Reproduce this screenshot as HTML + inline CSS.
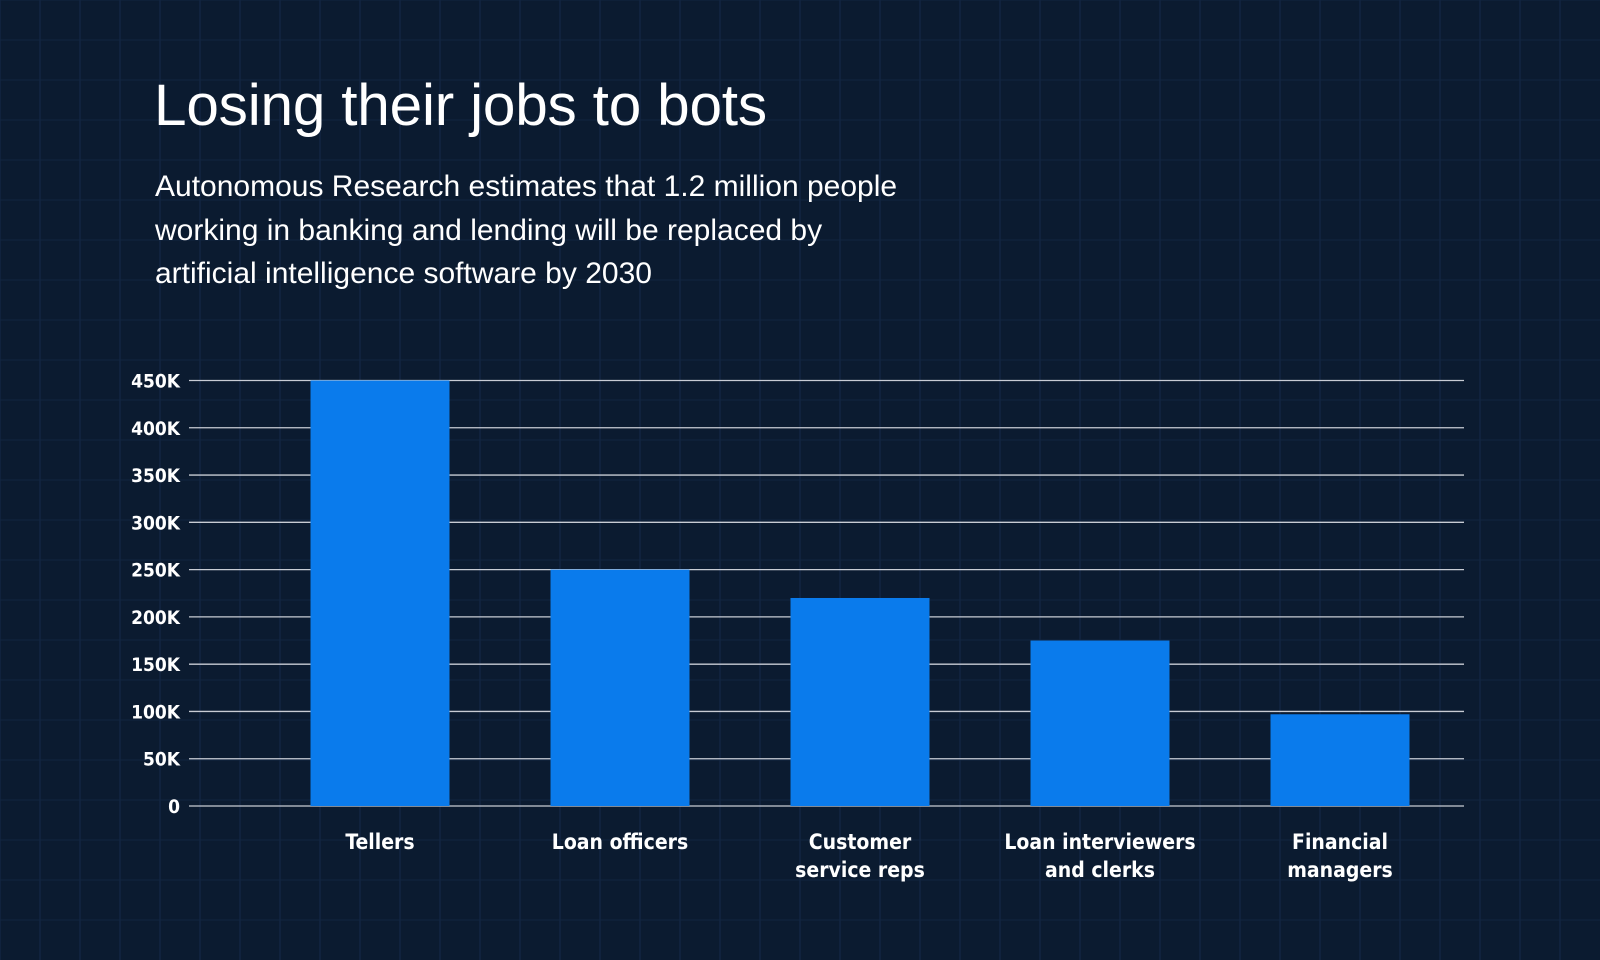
<!DOCTYPE html>
<html><head><meta charset="utf-8"><style>
html,body{margin:0;padding:0;}
body{width:1600px;height:960px;overflow:hidden;background:#0b1b30;font-family:"Liberation Sans",sans-serif;position:relative;}
#bg{position:absolute;left:0;top:0;}
h1{position:absolute;left:154px;top:72px;margin:0;font-weight:400;font-size:58.5px;color:#fff;letter-spacing:-0.2px;}
.sub{position:absolute;left:155px;top:165px;margin:0;font-size:30px;line-height:43.5px;color:#fff;}
#chart{position:absolute;left:0;top:0;}
</style></head><body>
<svg id="bg" width="1600" height="960"></svg>
<h1>Losing their jobs to bots</h1>
<p class="sub">Autonomous Research estimates that 1.2 million people<br>working in banking and lending will be replaced by<br>artificial intelligence software by 2030</p>
<svg id="chart" width="1600" height="960"></svg>
<script>
const categories=[["Tellers"],["Loan officers"],["Customer","service reps"],["Loan interviewers","and clerks"],["Financial","managers"]];
const values=[450000,250000,220000,175000,97000];
const ticks=[0,50000,100000,150000,200000,250000,300000,350000,400000,450000];
const tickLabels=["0","50K","100K","150K","200K","250K","300K","350K","400K","450K"];
const NS="http://www.w3.org/2000/svg";
const FONT='"DejaVu Sans Condensed","Liberation Sans Narrow","Liberation Sans",sans-serif';
const bg=document.getElementById('bg');
for(let x=0;x<1600;x+=40){const l=document.createElementNS(NS,'line');l.setAttribute('x1',x);l.setAttribute('x2',x);l.setAttribute('y1',0);l.setAttribute('y2',960);l.setAttribute('stroke','#15294a');l.setAttribute('stroke-width','1');

bg.appendChild(l);}
for(let y=0;y<960;y+=40){const l=document.createElementNS(NS,'line');l.setAttribute('x1',0);l.setAttribute('x2',1600);l.setAttribute('y1',y);l.setAttribute('y2',y);l.setAttribute('stroke','#122540');l.setAttribute('stroke-width','1');

bg.appendChild(l);}
const svg=document.getElementById('chart');
const x0=189,x1=1464,yZero=806,yTop=380.5,vMax=450000;
const y=v=>yZero-(v/vMax)*(yZero-yTop);
const xc=i=>380+i*240;
const bw=139;
ticks.forEach((t,i)=>{
 const l=document.createElementNS(NS,'line');
 l.setAttribute('x1',x0);l.setAttribute('x2',x1);l.setAttribute('y1',y(t));l.setAttribute('y2',y(t));
 l.setAttribute('stroke','#c8ccd4');l.setAttribute('stroke-width','1.3');
 
 
 svg.appendChild(l);
 const tx=document.createElementNS(NS,'text');
 tx.setAttribute('x',180);tx.setAttribute('y',y(t)+7);tx.setAttribute('text-anchor','end');
 tx.setAttribute('fill','#fff');tx.setAttribute('font-size','19');tx.setAttribute('font-weight','700');
 tx.setAttribute('font-family',FONT);
 tx.textContent=tickLabels[i];
 
 
 svg.appendChild(tx);
});
values.forEach((v,i)=>{
 const r=document.createElementNS(NS,'rect');
 r.setAttribute('x',xc(i)-bw/2);r.setAttribute('y',y(v));r.setAttribute('width',bw);r.setAttribute('height',yZero-y(v));
 r.setAttribute('fill','#0a7bec');
 
 
 svg.appendChild(r);
 categories[i].forEach((ln,j)=>{
  const tx=document.createElementNS(NS,'text');
  tx.setAttribute('x',xc(i));tx.setAttribute('y',849+j*28);tx.setAttribute('text-anchor','middle');
  tx.setAttribute('fill','#fff');tx.setAttribute('font-size','21');tx.setAttribute('font-weight','700');
  tx.setAttribute('font-family',FONT);
  tx.textContent=ln;
  
  
  svg.appendChild(tx);
 });
});
</script>
</body></html>
